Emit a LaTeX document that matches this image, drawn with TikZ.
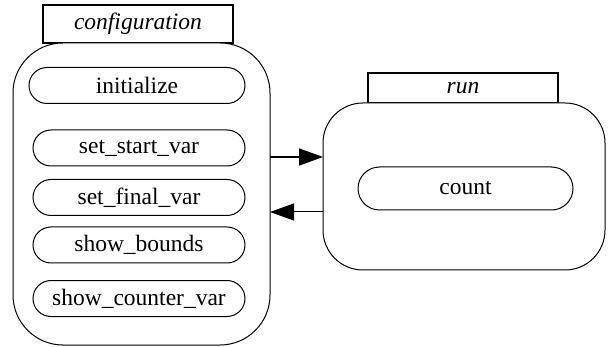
\documentclass[tikz,border=0pt]{standalone}
\usepackage{fontspec}
\setmainfont{Liberation Serif}
\newfontfamily\timesfont{Liberation Serif}
\usetikzlibrary{arrows.meta}
\begin{document}
\begin{tikzpicture}[x=1pt,y=-1pt,
  every node/.style={font=\timesfont\fontsize{23.5}{27}\selectfont, inner sep=0pt, outer sep=0pt},
  tabbox/.style={draw, line width=1.6pt, font=\timesfont\fontsize{23.5}{27}\selectfont\itshape},
  bigbox/.style={draw, line width=1pt},
  pill/.style={draw, line width=1pt, minimum width=#1, minimum height=36pt, rounded corners=18pt},
  arr/.style={line width=1.5pt, -{Triangle[length=24pt,width=17pt]}}]
\useasboundingbox (0,0) rectangle (610,347);
% configuration
\node[tabbox, minimum width=190pt, minimum height=38pt] (cfgtab) at (138,24) {configuration};
\node[bigbox, fill=white, minimum width=257pt, minimum height=302pt, rounded corners=50pt] (cfg) at (141.5,194) {};
\node[pill=216pt] (init) at (137,85.5) {initialize};
\node[pill=212pt] (start) at (139,148) {set\_start\_var};
\node[pill=212pt] (final) at (139,197.5) {set\_final\_var};
\node[pill=212pt] (bounds) at (139,245) {show\_bounds};
\node[pill=212pt] (counter) at (139,298.5) {show\_counter\_var};
% run
\node[tabbox, minimum width=190pt, minimum height=30pt, text depth=-4pt] (runtab) at (463,88) {run};
\node[bigbox, fill=white, minimum width=282pt, minimum height=167pt, rounded corners=40pt] (run) at (464,186.5) {};
\node[pill=215pt, minimum height=43pt, rounded corners=21.5pt] (count) at (465.5,188.5) {count};
% connectors
\draw[arr] (cfg.east |- 0,157) -- (run.west |- 0,157);
\draw[arr, line width=1pt] (run.west |- 0,212) -- (cfg.east |- 0,212);
\end{tikzpicture}
\end{document}
